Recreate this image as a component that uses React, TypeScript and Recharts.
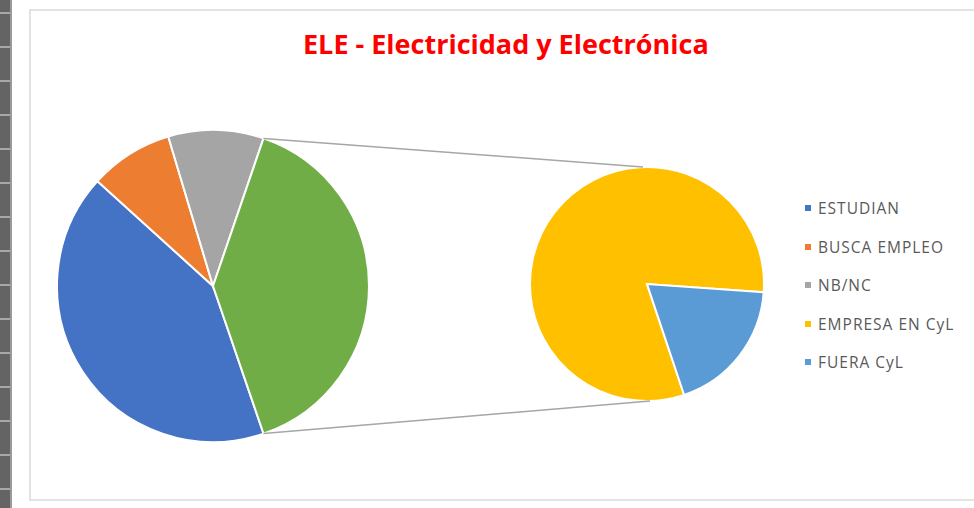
import React from "react";
import { PieChart, Pie, Cell } from "recharts";

const TITLE = "ELE - Electricidad y Electrónica";

// First pie categories (the last slice aggregates the second pie)
const mainLabels = ["ESTUDIAN", "BUSCA EMPLEO", "NB/NC"];
const mainValues = [34, 7, 8];
const mainColors = ["#4472C4", "#ED7D31", "#A5A5A5"];
const otherColor = "#70AD47";

// Second pie (breakdown of the aggregated slice)
const subLabels = ["EMPRESA EN CyL", "FUERA CyL"];
const subValues = [26, 6];
const subColors = ["#FFC000", "#5B9BD5"];

const W = 974;
const H = 508;
const MAIN = { cx: 213, cy: 286, r: 156 };
const SUB = { cx: 647, cy: 284, r: 117 };

const otherTotal = subValues.reduce((a, b) => a + b, 0);
const mainData = [
  ...mainLabels.map((name, i) => ({ name, value: mainValues[i], color: mainColors[i] })),
  { name: "Otros", value: otherTotal, color: otherColor },
];
const subData = subLabels.map((name, i) => ({ name, value: subValues[i], color: subColors[i] }));

const total = mainData.reduce((a, d) => a + d.value, 0);
const otherSpan = (otherTotal / total) * 360;
// Aggregated slice centred on 3 o'clock, slices drawn clockwise
const startMain = -otherSpan / 2;

const subSpanLast = (subValues[subValues.length - 1] / otherTotal) * 360;
const startSub = -4 - subSpanLast;

const RAD = Math.PI / 180;

const connectorLabel = (props: any) => {
  if (props.index !== mainData.length - 1) return null;
  const { cx, cy, outerRadius, startAngle, endAngle } = props;
  const a1 = startAngle * RAD;
  const a2 = endAngle * RAD;
  const p1 = { x: cx + outerRadius * Math.cos(a1), y: cy - outerRadius * Math.sin(a1) };
  const p2 = { x: cx + outerRadius * Math.cos(a2), y: cy - outerRadius * Math.sin(a2) };
  const top = p1.y < p2.y ? p1 : p2;
  const bot = p1.y < p2.y ? p2 : p1;
  return (
    <g>
      <line x1={top.x} y1={top.y} x2={SUB.cx - 4} y2={SUB.cy - SUB.r} stroke="#A6A6A6" strokeWidth={1.5} />
      <line x1={bot.x} y1={bot.y} x2={SUB.cx + 3} y2={SUB.cy + SUB.r} stroke="#A6A6A6" strokeWidth={1.5} />
    </g>
  );
};

const legendItems = [...mainData.slice(0, mainLabels.length), ...subData];

const tickYs = [13, 47, 81, 115, 149, 183, 217, 251, 285, 319, 353, 387, 421, 455, 489];

export default function App() {
  return (
    <div style={{ position: "fixed", left: 0, top: 0, width: W, height: H, background: "#fff", overflow: "hidden" }}>
      {/* sheet row header strip */}
      <div style={{ position: "absolute", left: 0, top: 0, width: 10, height: H, background: "#646464" }} />
      <div style={{ position: "absolute", left: 10, top: 0, width: 2, height: H, background: "#9a9a9a" }} />
      {tickYs.map((y) => (
        <div key={y} style={{ position: "absolute", left: 0, top: y - 1, width: 10, height: 2, background: "#a8a8a8" }} />
      ))}
      {/* chart area border */}
      <div
        style={{
          position: "absolute",
          left: 29,
          top: 9,
          width: W,
          height: 492,
          border: "2px solid #e3e3e3",
          boxSizing: "border-box",
        }}
      />
      <div
        style={{
          position: "absolute",
          left: 303,
          width: 405,
          top: 27,
          textAlign: "center",
          fontFamily: "'Open Sans', sans-serif",
          fontWeight: 700,
          fontSize: 27,
          color: "#FF0000",
          lineHeight: "34px",
          whiteSpace: "nowrap",
        }}
      >
        {TITLE}
      </div>
      <div style={{ position: "absolute", left: 0, top: 0 }}>
        <PieChart width={W} height={H} margin={{ top: 0, right: 0, bottom: 0, left: 0 }}>
          <Pie
            data={mainData}
            dataKey="value"
            nameKey="name"
            cx={MAIN.cx}
            cy={MAIN.cy}
            outerRadius={MAIN.r}
            startAngle={startMain}
            endAngle={startMain - 360}
            stroke="#fff"
            strokeWidth={2}
            isAnimationActive={false}
            label={connectorLabel}
            labelLine={false}
          >
            {mainData.map((d) => (
              <Cell key={d.name} fill={d.color} />
            ))}
          </Pie>
          <Pie
            data={subData}
            dataKey="value"
            nameKey="name"
            cx={SUB.cx}
            cy={SUB.cy}
            outerRadius={SUB.r}
            startAngle={startSub}
            endAngle={startSub - 360}
            stroke="#fff"
            strokeWidth={2}
            isAnimationActive={false}
          >
            {subData.map((d) => (
              <Cell key={d.name} fill={d.color} />
            ))}
          </Pie>
        </PieChart>
      </div>
      <div style={{ position: "absolute", left: 805, top: 189 }}>
        {legendItems.map((d) => (
          <div key={d.name} style={{ display: "flex", alignItems: "center", height: 38.5 }}>
            <div style={{ width: 6, height: 6, background: d.color, marginRight: 7 }} />
            <span
              style={{
                fontFamily: "'Open Sans', sans-serif",
                fontSize: 15.5,
                letterSpacing: 1,
                color: "#595959",
                lineHeight: "20px",
                whiteSpace: "nowrap",
              }}
            >
              {d.name}
            </span>
          </div>
        ))}
      </div>
    </div>
  );
}
